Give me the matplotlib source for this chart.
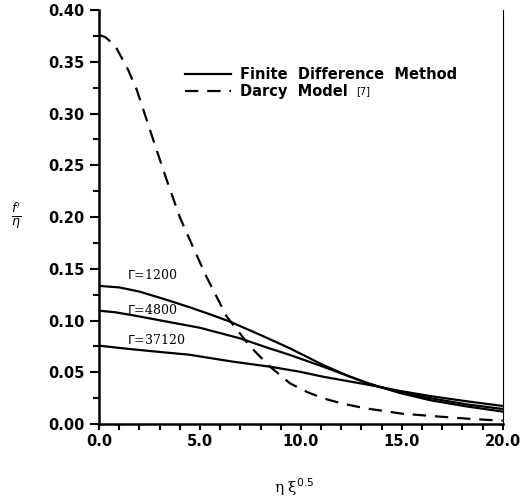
import matplotlib
matplotlib.use('Agg')
import matplotlib.pyplot as plt
from matplotlib.ticker import MultipleLocator, FormatStrFormatter

# Darcy model [7]
darcy_x = [0.0, 0.3, 0.79, 1.45, 1.87, 2.36, 2.85, 3.35, 4.0, 4.7, 5.33, 6.32, 7.48,
           8.47, 9.46, 10.3, 11.1, 12.1, 13.2, 15.0, 16.9, 18.5, 20.0]
darcy_y = [0.376, 0.374, 0.366, 0.342, 0.323, 0.294, 0.265, 0.236, 0.200, 0.169, 0.142,
           0.104, 0.075, 0.0554, 0.0393, 0.031, 0.0248, 0.0195, 0.0152, 0.0100, 0.0071,
           0.0048, 0.0032]

# finite difference method
g1200_x = [0.0, 1.0, 2.0, 3.35, 4.46, 5.5, 6.49, 8.0, 9.46, 11.1, 12.4, 13.4, 14.9,
           16.4, 18.2, 20.0]
g1200_y = [0.1335, 0.132, 0.128, 0.120, 0.113, 0.106, 0.0989, 0.086, 0.0731, 0.057,
           0.046, 0.039, 0.030, 0.023, 0.017, 0.012]
g4800_x = [0.0, 0.8, 1.7, 3.35, 5.0, 6.98, 8.3, 9.46, 11.1, 12.4, 13.4, 14.9, 16.4,
           18.2, 20.0]
g4800_y = [0.1095, 0.108, 0.105, 0.099, 0.093, 0.0828, 0.074, 0.0667, 0.0554, 0.046,
           0.0385, 0.0305, 0.025, 0.019, 0.0145]
g37120_x = [0.0, 1.5, 3.35, 4.46, 6.65, 8.47, 9.95, 11.1, 13.4, 14.9, 16.4, 18.2, 20.0]
g37120_y = [0.0757, 0.0725, 0.069, 0.067, 0.0602, 0.0554, 0.0505, 0.0457, 0.0377,
            0.032, 0.027, 0.022, 0.0174]

curve_labels = [r'$\Gamma$=1200', r'$\Gamma$=4800', r'$\Gamma$=37120']

fig = plt.figure(figsize=(5.31, 5.04), dpi=100)
ax = fig.add_axes([0.1864, 0.1587, 0.7606, 0.8213])

lw = 1.6
ax.plot(g1200_x, g1200_y, color='black', lw=lw, solid_joinstyle='round',
        label='Finite  Difference  Method')
ax.plot(g4800_x, g4800_y, color='black', lw=lw, solid_joinstyle='round')
ax.plot(g37120_x, g37120_y, color='black', lw=lw, solid_joinstyle='round')
ax.plot(darcy_x, darcy_y, color='black', lw=lw, ls=(0, (6, 4)), label='Darcy  Model')

# curve labels
lab_pos = [(1.4, 0.144), (1.4, 0.1105), (1.4, 0.0815)]
for (lx, ly), t in zip(lab_pos, curve_labels):
    ax.text(lx, ly, t, fontsize=9, family='DejaVu Serif', va='center', ha='left')

leg = ax.legend(loc='upper left', bbox_to_anchor=(0.18, 0.895), frameon=False,
                handlelength=3.2, handletextpad=0.6, labelspacing=0.15,
                prop={'family': 'DejaVu Sans', 'weight': 'bold', 'size': 10.5})

ax.set_xlim(0, 20)
ax.set_ylim(0, 0.40)
ax.xaxis.set_major_locator(MultipleLocator(5))
ax.xaxis.set_minor_locator(MultipleLocator(1))
ax.yaxis.set_major_locator(MultipleLocator(0.05))
ax.yaxis.set_minor_locator(MultipleLocator(0.025))
ax.xaxis.set_major_formatter(FormatStrFormatter('%.1f'))
ax.yaxis.set_major_formatter(FormatStrFormatter('%.2f'))

for lab in ax.get_xticklabels() + ax.get_yticklabels():
    lab.set_fontweight('bold')
    lab.set_fontsize(10.5)

ax.tick_params(axis='y', which='major', direction='out', length=6.5, width=1.5, pad=4)
ax.tick_params(axis='y', which='minor', direction='out', length=4, width=1.5)
ax.tick_params(axis='x', which='both', direction='out', length=4, width=1.5, pad=3)

ax.spines['top'].set_visible(False)
ax.spines['left'].set_linewidth(1.8)
ax.spines['bottom'].set_linewidth(1.8)
ax.spines['right'].set_linewidth(0.8)

# reference tag right after the Darcy legend entry
fig.canvas.draw()
r = fig.canvas.get_renderer()
bb = leg.get_texts()[1].get_window_extent(r)
fig.text((bb.x1 + 8) / fig.bbox.width, (bb.y0 + bb.y1) / 2 / fig.bbox.height, '[7]',
         fontsize=7, va='center', ha='left')

fig.text(0.555, 0.034, 'η ξ$^{0.5}$', fontsize=11, family='DejaVu Serif',
         ha='center', va='center')
fig.text(0.03, 0.57, r"$\frac{f'}{\eta}$", fontsize=13, ha='center', va='center')

fig.savefig('out.png', dpi=100)
